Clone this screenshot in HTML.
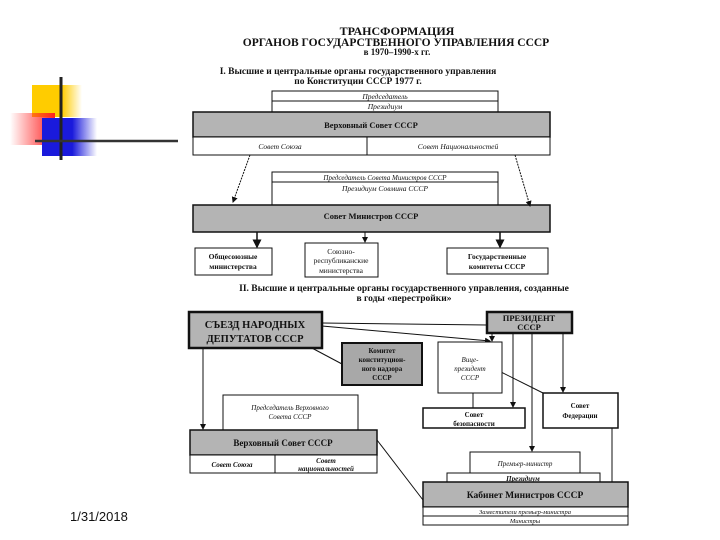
<!DOCTYPE html>
<html><head><meta charset="utf-8"><style>
body{margin:0;background:#fff}
svg{display:block}
text{font-family:"Liberation Serif",serif;fill:#111}
.b{font-weight:bold}
.i{font-style:italic}
</style></head><body>
<svg width="720" height="540" viewBox="0 0 720 540" xmlns="http://www.w3.org/2000/svg">
<defs>
<linearGradient id="gy" x1="0" x2="1"><stop offset="0" stop-color="#ffcc00"/><stop offset="0.6" stop-color="#ffcc00"/><stop offset="1" stop-color="#ffcc00" stop-opacity="0"/></linearGradient>
<linearGradient id="gr" x1="1" x2="0"><stop offset="0" stop-color="#ff2020"/><stop offset="1" stop-color="#ff2020" stop-opacity="0"/></linearGradient>
<linearGradient id="gb" x1="0" x2="1"><stop offset="0" stop-color="#1a1adc"/><stop offset="0.55" stop-color="#1a1adc"/><stop offset="1" stop-color="#1a1adc" stop-opacity="0"/></linearGradient>
<marker id="a" markerWidth="6" markerHeight="6" refX="5" refY="3" orient="auto"><path d="M0,0 L6,3 L0,6z" fill="#111"/></marker>
</defs>
<rect x="32" y="85" width="50" height="32" fill="url(#gy)"/>
<rect x="10" y="113" width="45" height="32" fill="url(#gr)"/>
<rect x="42" y="118" width="55" height="38" fill="url(#gb)"/>
<line x1="61" y1="77" x2="61" y2="160" stroke="#222" stroke-width="3"/>
<line x1="35" y1="141" x2="178" y2="141" stroke="#333" stroke-width="2.5"/>
<text x="70" y="521" font-size="13" style="font-family:'Liberation Sans',sans-serif">1/31/2018</text>

<text x="397" y="35" font-size="12" class="b" text-anchor="middle">ТРАНСФОРМАЦИЯ</text>
<text x="396" y="46" font-size="11.5" class="b" text-anchor="middle">ОРГАНОВ ГОСУДАРСТВЕННОГО УПРАВЛЕНИЯ СССР</text>
<text x="397" y="55" font-size="9" class="b" text-anchor="middle">в 1970–1990-х гг.</text>
<text x="358" y="74" font-size="9.5" class="b" text-anchor="middle">I. Высшие и центральные органы государственного управления</text>
<text x="358" y="84" font-size="9.5" class="b" text-anchor="middle">по Конституции СССР 1977 г.</text>

<g stroke="#111" stroke-width="1">
<rect x="272" y="91" width="226" height="21" fill="#fff"/>
<line x1="272" y1="101" x2="498" y2="101"/>
<rect x="193" y="112" width="357" height="25" fill="#b4b4b4" stroke-width="1.5"/>
<rect x="193" y="137" width="357" height="18" fill="#fff"/>
<line x1="367" y1="137" x2="367" y2="155"/>
<rect x="272" y="172" width="226" height="33" fill="#fff"/>
<line x1="272" y1="182" x2="498" y2="182"/>
<rect x="193" y="205" width="357" height="27" fill="#b4b4b4" stroke-width="1.5"/>
<rect x="195" y="248" width="77" height="27" fill="#fff"/>
<rect x="305" y="243" width="73" height="34" fill="#fff"/>
<rect x="447" y="248" width="101" height="26" fill="#fff"/>
<line x1="250" y1="155" x2="233" y2="202" stroke-dasharray="2,1" marker-end="url(#a)"/>
<line x1="515" y1="155" x2="530" y2="206" stroke-dasharray="2,1" marker-end="url(#a)"/>
<line x1="257" y1="232" x2="257" y2="247" stroke-width="1.5" marker-end="url(#a)"/>
<line x1="365" y1="232" x2="365" y2="242" marker-end="url(#a)"/>
<line x1="500" y1="232" x2="500" y2="247" stroke-width="1.5" marker-end="url(#a)"/>
</g>
<text x="385" y="99" font-size="7.5" class="i" text-anchor="middle">Председатель</text>
<text x="385" y="109" font-size="7.5" class="i" text-anchor="middle">Президиум</text>
<text x="371" y="128" font-size="8.5" class="b" text-anchor="middle">Верховный Совет СССР</text>
<text x="280" y="149" font-size="7.5" class="i" text-anchor="middle">Совет Союза</text>
<text x="458" y="149" font-size="7.5" class="i" text-anchor="middle">Совет Национальностей</text>
<text x="385" y="180" font-size="7" class="i" text-anchor="middle">Председатель Совета Министров СССР</text>
<text x="385" y="191" font-size="7.5" class="i" text-anchor="middle">Президиум Совмина СССР</text>
<text x="371" y="219" font-size="8.5" class="b" text-anchor="middle">Совет Министров СССР</text>
<text x="233" y="259" font-size="7.5" class="b" text-anchor="middle">Общесоюзные</text>
<text x="233" y="269" font-size="7.5" class="b" text-anchor="middle">министерства</text>
<text x="341" y="254" font-size="7.5" text-anchor="middle">Союзно-</text>
<text x="341" y="263" font-size="7.5" text-anchor="middle">республиканские</text>
<text x="341" y="273" font-size="7.5" text-anchor="middle">министерства</text>
<text x="497" y="259" font-size="7.5" class="b" text-anchor="middle">Государственные</text>
<text x="497" y="269" font-size="7.5" class="b" text-anchor="middle">комитеты СССР</text>

<text x="404" y="291" font-size="9.5" class="b" text-anchor="middle">II. Высшие и центральные органы государственного управления, созданные</text>
<text x="404" y="301" font-size="9.5" class="b" text-anchor="middle">в годы «перестройки»</text>

<g stroke="#111" stroke-width="1">
<line x1="322" y1="323" x2="487" y2="325"/>
<line x1="322" y1="326" x2="490" y2="341" marker-end="url(#a)"/>
<line x1="310" y1="347" x2="342" y2="364"/>
<line x1="203" y1="348" x2="203" y2="429" marker-end="url(#a)"/>
<line x1="492" y1="333" x2="492" y2="341" marker-end="url(#a)"/>
<line x1="513" y1="333" x2="513" y2="407" marker-end="url(#a)"/>
<line x1="532" y1="333" x2="532" y2="451" marker-end="url(#a)"/>
<line x1="563" y1="333" x2="563" y2="392" marker-end="url(#a)"/>
<line x1="493" y1="368" x2="543" y2="393"/>
<line x1="473" y1="393" x2="473" y2="408"/>
<line x1="612" y1="428" x2="612" y2="482"/>
<line x1="377" y1="440" x2="423" y2="500"/>
<rect x="189" y="312" width="133" height="36" fill="#b4b4b4" stroke-width="2.5"/>
<rect x="487" y="312" width="85" height="21" fill="#b4b4b4" stroke-width="2.5"/>
<rect x="342" y="343" width="80" height="42" fill="#a8a8a8" stroke-width="2"/>
<rect x="438" y="342" width="64" height="51" fill="#fff"/>
<rect x="423" y="408" width="102" height="20" fill="#fff" stroke-width="1.5"/>
<rect x="543" y="393" width="75" height="35" fill="#fff" stroke-width="1.5"/>
<rect x="223" y="395" width="135" height="35" fill="#fff"/>
<rect x="190" y="430" width="187" height="25" fill="#b4b4b4" stroke-width="1.5"/>
<rect x="190" y="455" width="187" height="18" fill="#fff"/>
<line x1="275" y1="455" x2="275" y2="473"/>
<rect x="470" y="452" width="110" height="21" fill="#fff"/>
<rect x="447" y="473" width="153" height="9" fill="#fff"/>
<rect x="423" y="482" width="205" height="25" fill="#b4b4b4" stroke-width="1.5"/>
<rect x="423" y="507" width="205" height="18" fill="#fff"/>
<line x1="423" y1="516" x2="628" y2="516"/>
</g>
<text x="255" y="328" font-size="10.5" class="b" text-anchor="middle">СЪЕЗД НАРОДНЫХ</text>
<text x="255" y="342" font-size="10.5" class="b" text-anchor="middle">ДЕПУТАТОВ СССР</text>
<text x="529" y="321" font-size="8.5" class="b" text-anchor="middle">ПРЕЗИДЕНТ</text>
<text x="529" y="330" font-size="8.5" class="b" text-anchor="middle">СССР</text>
<text x="382" y="353" font-size="7" class="b" text-anchor="middle">Комитет</text>
<text x="382" y="362" font-size="7" class="b" text-anchor="middle">конституцион-</text>
<text x="382" y="371" font-size="7" class="b" text-anchor="middle">ного надзора</text>
<text x="382" y="380" font-size="7" class="b" text-anchor="middle">СССР</text>
<text x="470" y="362" font-size="7" class="i" text-anchor="middle">Вице-</text>
<text x="470" y="371" font-size="7" class="i" text-anchor="middle">президент</text>
<text x="470" y="380" font-size="7" class="i" text-anchor="middle">СССР</text>
<text x="474" y="417" font-size="7" class="b" text-anchor="middle">Совет</text>
<text x="474" y="426" font-size="7" class="b" text-anchor="middle">безопасности</text>
<text x="580" y="408" font-size="7" class="b" text-anchor="middle">Совет</text>
<text x="580" y="418" font-size="7" class="b" text-anchor="middle">Федерации</text>
<text x="290" y="410" font-size="7" class="i" text-anchor="middle">Председатель Верховного</text>
<text x="290" y="419" font-size="7" class="i" text-anchor="middle">Совета СССР</text>
<text x="283" y="446" font-size="9" class="b" text-anchor="middle">Верховный Совет СССР</text>
<text x="232" y="467" font-size="7" class="b i" text-anchor="middle">Совет Союза</text>
<text x="326" y="463" font-size="7" class="b i" text-anchor="middle">Совет</text>
<text x="326" y="471" font-size="7" class="b i" text-anchor="middle">национальностей</text>
<text x="525" y="466" font-size="7" class="i" text-anchor="middle">Премьер-министр</text>
<text x="523" y="481" font-size="7" class="b i" text-anchor="middle">Президиум</text>
<text x="525" y="498" font-size="9.5" class="b" text-anchor="middle">Кабинет Министров СССР</text>
<text x="525" y="514" font-size="6.5" class="i" text-anchor="middle">Заместители премьер-министра</text>
<text x="525" y="523" font-size="6.5" class="i" text-anchor="middle">Министры</text>
</svg>
</body></html>
